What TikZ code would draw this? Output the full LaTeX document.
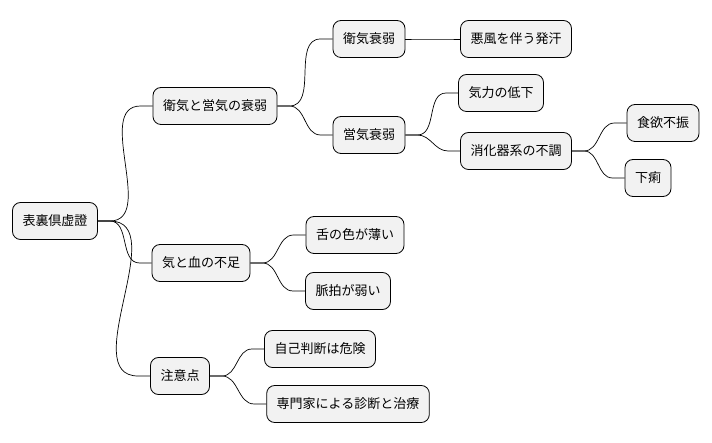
\documentclass[tikz,border=0pt]{standalone}
\usepackage{fontspec}
\setmainfont{Noto Sans CJK JP}
\begin{document}
\begin{tikzpicture}[x=1pt,y=-1pt,
  box/.style={draw=black,fill=gray!10,rounded corners=8pt,line width=0.8pt,minimum height=37pt,inner xsep=10pt,font=\fontsize{13}{15}\selectfont},
  link/.style={line width=0.7pt}]
\useasboundingbox (0,0) rectangle (712,443);
\node[box] (r) at (55,221) {表裏倶虚證};
\node[box] (a) at (215,106) {衛気と営気の衰弱};
\node[box] (b) at (201,263) {気と血の不足};
\node[box] (c) at (180,376) {注意点};
\node[box] (a1) at (369,39) {衛気衰弱};
\node[box] (a2) at (369,135) {営気衰弱};
\node[box] (a11) at (516,39) {悪風を伴う発汗};
\node[box] (a21) at (501,93) {気力の低下};
\node[box] (a22) at (516,151) {消化器系の不調};
\node[box] (a221) at (663,123) {食欲不振};
\node[box] (a222) at (648,178) {下痢};
\node[box] (b1) at (355,235) {舌の色が薄い};
\node[box] (b2) at (348,291) {脈拍が弱い};
\node[box] (c1) at (320,349) {自己判断は危険};
\node[box] (c2) at (348,404) {専門家による診断と治療};
\foreach \p/\q in {r/a,r/b,r/c,a/a1,a/a2,a1/a11,a2/a21,a2/a22,a22/a221,a22/a222,b/b1,b/b2,c/c1,c/c2}{
  \draw[link] (\p.east) -- ++(12,0) to[out=0,in=180] ([xshift=-12pt]\q.west) -- (\q.west);
}
\end{tikzpicture}
\end{document}
